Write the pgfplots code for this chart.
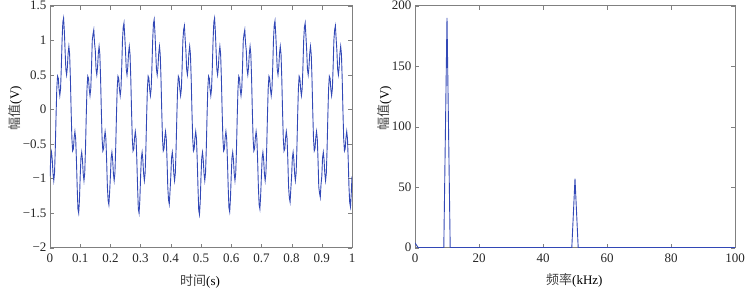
\documentclass[border=0pt]{standalone}
\usepackage{fontspec}
\setmainfont{Liberation Serif}
\newfontfamily\cjk{Noto Sans CJK SC}
\usepackage{pgfplots}
\pgfplotsset{compat=1.18}
\definecolor{sig}{RGB}{50,72,182}
\definecolor{axg}{RGB}{128,128,128}
\begin{document}
\begin{tikzpicture}
\path[use as bounding box] (-50pt,-43.3pt) rectangle (698pt,247.7pt);
\pgfplotsset{
  every axis/.append style={
    scale only axis, height=242pt,
    tick align=inside, major tick length=4pt,
    axis line style={axg}, tick style={axg},
    tick label style={font=\fontsize{13}{15}\selectfont, color=black!85},
    xticklabel style={yshift=-3pt},
    label style={font=\fontsize{13}{15}\selectfont},
  }
}
\begin{axis}[at={(0pt,0pt)}, anchor=south west, width=302pt,
  xmin=0, xmax=1, ymin=-2, ymax=1.5,
  xtick={0,0.1,0.2,0.3,0.4,0.5,0.6,0.7,0.8,0.9,1},
  xticklabels={0,0.1,0.2,0.3,0.4,0.5,0.6,0.7,0.8,0.9,1},
  ytick={-2,-1.5,-1,-0.5,0,0.5,1,1.5},
  yticklabels={−2,−1.5,−1,−0.5,0,0.5,1,1.5},
  xlabel={{\color{black!75}\cjk 时间}(s)},
  xlabel style={at={(axis description cs:0.497,-0.14)}, anchor=center},
  ylabel={{\color{black!75}\cjk 幅值}(V)},
  ylabel style={at={(axis description cs:-0.116,0.577)}, anchor=center}]
\addplot[sig, line width=0.9pt] table {
x y
0.0000 -0.97
0.0025 -0.70
0.0050 -0.62
0.0075 -0.73
0.0100 -0.93
0.0125 -1.03
0.0150 -0.92
0.0175 -0.57
0.0200 -0.10
0.0225 0.30
0.0250 0.48
0.0275 0.45
0.0300 0.29
0.0325 0.20
0.0350 0.30
0.0375 0.61
0.0400 1.00
0.0425 1.26
0.0450 1.32
0.0475 1.13
0.0500 0.85
0.0525 0.58
0.0550 0.50
0.0575 0.61
0.0600 0.81
0.0625 0.91
0.0650 0.80
0.0675 0.45
0.0700 -0.02
0.0725 -0.42
0.0750 -0.60
0.0775 -0.57
0.0800 -0.41
0.0825 -0.32
0.0850 -0.42
0.0875 -0.73
0.0900 -1.12
0.0925 -1.44
0.0950 -1.50
0.0975 -1.31
0.1000 -0.97
0.1025 -0.70
0.1050 -0.62
0.1075 -0.73
0.1100 -0.93
0.1125 -1.03
0.1150 -0.92
0.1175 -0.57
0.1200 -0.10
0.1225 0.30
0.1250 0.48
0.1275 0.45
0.1300 0.29
0.1325 0.20
0.1350 0.30
0.1375 0.61
0.1400 1.00
0.1425 1.09
0.1450 1.15
0.1475 0.96
0.1500 0.85
0.1525 0.58
0.1550 0.50
0.1575 0.61
0.1600 0.81
0.1625 0.91
0.1650 0.80
0.1675 0.45
0.1700 -0.02
0.1725 -0.42
0.1750 -0.60
0.1775 -0.57
0.1800 -0.41
0.1825 -0.32
0.1850 -0.42
0.1875 -0.73
0.1900 -1.12
0.1925 -1.32
0.1950 -1.38
0.1975 -1.19
0.2000 -0.97
0.2025 -0.70
0.2050 -0.62
0.2075 -0.73
0.2100 -0.93
0.2125 -1.03
0.2150 -0.92
0.2175 -0.57
0.2200 -0.10
0.2225 0.30
0.2250 0.48
0.2275 0.45
0.2300 0.29
0.2325 0.20
0.2350 0.30
0.2375 0.61
0.2400 1.00
0.2425 1.19
0.2450 1.25
0.2475 1.06
0.2500 0.85
0.2525 0.58
0.2550 0.50
0.2575 0.61
0.2600 0.81
0.2625 0.91
0.2650 0.80
0.2675 0.45
0.2700 -0.02
0.2725 -0.42
0.2750 -0.60
0.2775 -0.57
0.2800 -0.41
0.2825 -0.32
0.2850 -0.42
0.2875 -0.73
0.2900 -1.12
0.2925 -1.44
0.2950 -1.50
0.2975 -1.31
0.3000 -0.97
0.3025 -0.70
0.3050 -0.62
0.3075 -0.73
0.3100 -0.93
0.3125 -1.03
0.3150 -0.92
0.3175 -0.57
0.3200 -0.10
0.3225 0.30
0.3250 0.48
0.3275 0.45
0.3300 0.29
0.3325 0.20
0.3350 0.30
0.3375 0.61
0.3400 1.00
0.3425 1.24
0.3450 1.30
0.3475 1.11
0.3500 0.85
0.3525 0.58
0.3550 0.50
0.3575 0.61
0.3600 0.81
0.3625 0.91
0.3650 0.80
0.3675 0.45
0.3700 -0.02
0.3725 -0.42
0.3750 -0.60
0.3775 -0.57
0.3800 -0.41
0.3825 -0.32
0.3850 -0.42
0.3875 -0.73
0.3900 -1.12
0.3925 -1.31
0.3950 -1.37
0.3975 -1.18
0.4000 -0.97
0.4025 -0.70
0.4050 -0.62
0.4075 -0.73
0.4100 -0.93
0.4125 -1.03
0.4150 -0.92
0.4175 -0.57
0.4200 -0.10
0.4225 0.30
0.4250 0.48
0.4275 0.45
0.4300 0.29
0.4325 0.20
0.4350 0.30
0.4375 0.61
0.4400 1.00
0.4425 1.15
0.4450 1.21
0.4475 1.02
0.4500 0.85
0.4525 0.58
0.4550 0.50
0.4575 0.61
0.4600 0.81
0.4625 0.91
0.4650 0.80
0.4675 0.45
0.4700 -0.02
0.4725 -0.42
0.4750 -0.60
0.4775 -0.57
0.4800 -0.41
0.4825 -0.32
0.4850 -0.42
0.4875 -0.73
0.4900 -1.12
0.4925 -1.46
0.4950 -1.52
0.4975 -1.33
0.5000 -0.97
0.5025 -0.70
0.5050 -0.62
0.5075 -0.73
0.5100 -0.93
0.5125 -1.03
0.5150 -0.92
0.5175 -0.57
0.5200 -0.10
0.5225 0.30
0.5250 0.48
0.5275 0.45
0.5300 0.29
0.5325 0.20
0.5350 0.30
0.5375 0.61
0.5400 1.00
0.5425 1.26
0.5450 1.32
0.5475 1.13
0.5500 0.85
0.5525 0.58
0.5550 0.50
0.5575 0.61
0.5600 0.81
0.5625 0.91
0.5650 0.80
0.5675 0.45
0.5700 -0.02
0.5725 -0.42
0.5750 -0.60
0.5775 -0.57
0.5800 -0.41
0.5825 -0.32
0.5850 -0.42
0.5875 -0.73
0.5900 -1.12
0.5925 -1.42
0.5950 -1.48
0.5975 -1.29
0.6000 -0.97
0.6025 -0.70
0.6050 -0.62
0.6075 -0.73
0.6100 -0.93
0.6125 -1.03
0.6150 -0.92
0.6175 -0.57
0.6200 -0.10
0.6225 0.30
0.6250 0.48
0.6275 0.45
0.6300 0.29
0.6325 0.20
0.6350 0.30
0.6375 0.61
0.6400 1.00
0.6425 1.09
0.6450 1.15
0.6475 0.96
0.6500 0.85
0.6525 0.58
0.6550 0.50
0.6575 0.61
0.6600 0.81
0.6625 0.91
0.6650 0.80
0.6675 0.45
0.6700 -0.02
0.6725 -0.42
0.6750 -0.60
0.6775 -0.57
0.6800 -0.41
0.6825 -0.32
0.6850 -0.42
0.6875 -0.73
0.6900 -1.12
0.6925 -1.38
0.6950 -1.44
0.6975 -1.25
0.7000 -0.97
0.7025 -0.70
0.7050 -0.62
0.7075 -0.73
0.7100 -0.93
0.7125 -1.03
0.7150 -0.92
0.7175 -0.57
0.7200 -0.10
0.7225 0.30
0.7250 0.48
0.7275 0.45
0.7300 0.29
0.7325 0.20
0.7350 0.30
0.7375 0.61
0.7400 1.00
0.7425 1.22
0.7450 1.28
0.7475 1.09
0.7500 0.85
0.7525 0.58
0.7550 0.50
0.7575 0.61
0.7600 0.81
0.7625 0.91
0.7650 0.80
0.7675 0.45
0.7700 -0.02
0.7725 -0.42
0.7750 -0.60
0.7775 -0.57
0.7800 -0.41
0.7825 -0.32
0.7850 -0.42
0.7875 -0.73
0.7900 -1.12
0.7925 -1.28
0.7950 -1.34
0.7975 -1.15
0.8000 -0.97
0.8025 -0.70
0.8050 -0.62
0.8075 -0.73
0.8100 -0.93
0.8125 -1.03
0.8150 -0.92
0.8175 -0.57
0.8200 -0.10
0.8225 0.30
0.8250 0.48
0.8275 0.45
0.8300 0.29
0.8325 0.20
0.8350 0.30
0.8375 0.61
0.8400 1.00
0.8425 1.19
0.8450 1.25
0.8475 1.06
0.8500 0.85
0.8525 0.58
0.8550 0.50
0.8575 0.61
0.8600 0.81
0.8625 0.91
0.8650 0.80
0.8675 0.45
0.8700 -0.02
0.8725 -0.42
0.8750 -0.60
0.8775 -0.57
0.8800 -0.41
0.8825 -0.32
0.8850 -0.42
0.8875 -0.73
0.8900 -1.12
0.8925 -1.21
0.8950 -1.27
0.8975 -1.08
0.9000 -0.97
0.9025 -0.70
0.9050 -0.62
0.9075 -0.73
0.9100 -0.93
0.9125 -1.03
0.9150 -0.92
0.9175 -0.57
0.9200 -0.10
0.9225 0.30
0.9250 0.48
0.9275 0.45
0.9300 0.29
0.9325 0.20
0.9350 0.30
0.9375 0.61
0.9400 1.00
0.9425 1.15
0.9450 1.21
0.9475 1.02
0.9500 0.85
0.9525 0.58
0.9550 0.50
0.9575 0.61
0.9600 0.81
0.9625 0.91
0.9650 0.80
0.9675 0.45
0.9700 -0.02
0.9725 -0.42
0.9750 -0.60
0.9775 -0.57
0.9800 -0.41
0.9825 -0.32
0.9850 -0.42
0.9875 -0.73
0.9900 -1.12
0.9925 -1.35
0.9950 -1.41
0.9975 -1.22
1.0000 -0.97
};
\end{axis}
\begin{axis}[at={(365pt,0pt)}, anchor=south west, width=320pt,
  xmin=0, xmax=100, ymin=0, ymax=200,
  xtick={0,20,40,60,80,100}, xticklabels={0,20,40,60,80,100},
  ytick={0,50,100,150,200}, yticklabels={0,50,100,150,200},
  xlabel={{\color{black!75}\cjk 频率}(kHz)},
  xlabel style={at={(axis description cs:0.498,-0.133)}, anchor=center},
  ylabel={{\color{black!75}\cjk 幅值}(V)},
  ylabel style={at={(axis description cs:-0.094,0.577)}, anchor=center}]
\addplot[sig, line width=0.9pt] table {
x y
0 4
1 0
9 0
10 190
11 0
49 0
50 57
51 0
100 0
};
\end{axis}
\end{tikzpicture}
\end{document}
